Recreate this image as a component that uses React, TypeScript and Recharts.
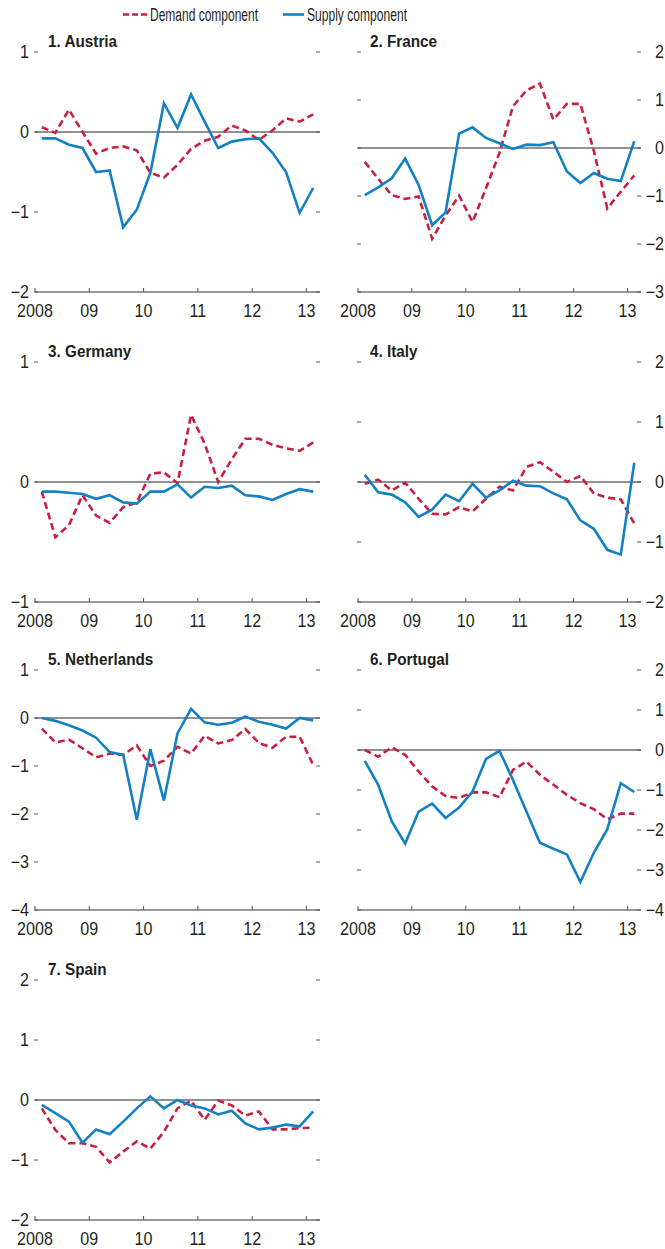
import React from 'react';
import { LineChart, Line, XAxis, YAxis, ReferenceLine } from 'recharts';

const quarters = [
  '2008Q1', '2008Q2', '2008Q3', '2008Q4', '2009Q1', '2009Q2', '2009Q3', '2009Q4',
  '2010Q1', '2010Q2', '2010Q3', '2010Q4', '2011Q1', '2011Q2', '2011Q3', '2011Q4',
  '2012Q1', '2012Q2', '2012Q3', '2012Q4', '2013Q1',
];
const yearTicks = [0, 4, 8, 12, 16, 20];
const yearLabels = ['2008', '09', '10', '11', '12', '13'];

const austriaDemand = [0.06, -0.01, 0.28, 0.0, -0.27, -0.2, -0.18, -0.23, -0.51, -0.57, -0.41, -0.21, -0.11, -0.06, 0.08, 0.02, -0.1, 0.02, 0.17, 0.13, 0.22];
const austriaSupply = [-0.08, -0.08, -0.16, -0.2, -0.5, -0.48, -1.19, -0.97, -0.51, 0.36, 0.05, 0.47, 0.13, -0.2, -0.12, -0.09, -0.08, -0.26, -0.5, -1.01, -0.7];
const franceDemand = [-0.29, -0.64, -0.98, -1.06, -1.01, -1.89, -1.41, -0.99, -1.54, -0.84, -0.1, 0.87, 1.2, 1.34, 0.59, 0.92, 0.92, -0.06, -1.26, -0.91, -0.57];
const franceSupply = [-0.98, -0.82, -0.63, -0.22, -0.77, -1.61, -1.34, 0.3, 0.43, 0.21, 0.1, -0.02, 0.07, 0.06, 0.12, -0.49, -0.73, -0.52, -0.64, -0.69, 0.14];
const germanyDemand = [-0.08, -0.46, -0.36, -0.11, -0.28, -0.34, -0.21, -0.17, 0.07, 0.08, -0.01, 0.56, 0.32, 0.0, 0.19, 0.36, 0.36, 0.31, 0.28, 0.26, 0.33];
const germanySupply = [-0.08, -0.08, -0.09, -0.1, -0.14, -0.11, -0.17, -0.18, -0.08, -0.08, -0.02, -0.13, -0.04, -0.05, -0.03, -0.11, -0.12, -0.15, -0.1, -0.06, -0.08];
const italyDemand = [-0.03, 0.04, -0.14, -0.01, -0.28, -0.53, -0.54, -0.42, -0.49, -0.28, -0.08, -0.14, 0.25, 0.33, 0.17, 0.0, 0.1, -0.19, -0.26, -0.29, -0.69];
const italySupply = [0.12, -0.17, -0.21, -0.34, -0.58, -0.46, -0.21, -0.32, -0.03, -0.26, -0.14, 0.02, -0.06, -0.07, -0.19, -0.29, -0.64, -0.78, -1.13, -1.21, 0.32];
const netherlandsDemand = [-0.22, -0.51, -0.45, -0.63, -0.82, -0.74, -0.77, -0.57, -1.0, -0.89, -0.6, -0.74, -0.37, -0.53, -0.46, -0.23, -0.52, -0.62, -0.39, -0.39, -0.98];
const netherlandsSupply = [0.0, -0.06, -0.15, -0.26, -0.41, -0.71, -0.77, -2.12, -0.65, -1.72, -0.32, 0.19, -0.09, -0.14, -0.1, 0.03, -0.08, -0.14, -0.22, 0.0, -0.05];
const portugalDemand = [0.0, -0.17, 0.07, -0.12, -0.54, -0.91, -1.15, -1.2, -1.06, -1.06, -1.18, -0.5, -0.29, -0.62, -0.87, -1.12, -1.33, -1.48, -1.73, -1.59, -1.59];
const portugalSupply = [-0.27, -0.87, -1.78, -2.34, -1.54, -1.34, -1.7, -1.44, -1.04, -0.22, -0.02, -0.75, -1.54, -2.32, -2.47, -2.61, -3.3, -2.57, -1.98, -0.83, -1.05];
const spainDemand = [-0.14, -0.5, -0.72, -0.72, -0.78, -1.04, -0.86, -0.69, -0.81, -0.53, -0.14, -0.01, -0.33, -0.01, -0.09, -0.26, -0.19, -0.49, -0.49, -0.47, -0.46];
const spainSupply = [-0.08, -0.22, -0.36, -0.71, -0.49, -0.57, -0.36, -0.14, 0.06, -0.14, 0.0, -0.09, -0.14, -0.24, -0.18, -0.39, -0.49, -0.46, -0.41, -0.44, -0.19];

const panelTitles = ['1. Austria', '2. France', '3. Germany', '4. Italy', '5. Netherlands', '6. Portugal', '7. Spain'];
const legendLabels = ['Demand component', 'Supply component'];

const RED = '#c8203f';
const BLUE = '#1380c3';
const TEXT = '#231f20';
const GRID = '#555555';
const FONT = "'Liberation Sans', Arial, Helvetica, sans-serif";
const TICK_FS = 17.5;
const TICK_SX = 0.92;

const rowTops = [52, 362, 670, 980];

const fmt = (v: number) => (v < 0 ? '\u2212' + Math.abs(v) : String(v));

const range = (a: number, b: number) => {
  const out: number[] = [];
  for (let v = a; v <= b; v++) out.push(v);
  return out;
};

const panels = [
  { title: panelTitles[0], demand: austriaDemand, supply: austriaSupply, domain: [-2, 1], col: 0, row: 0 },
  { title: panelTitles[1], demand: franceDemand, supply: franceSupply, domain: [-3, 2], col: 1, row: 0 },
  { title: panelTitles[2], demand: germanyDemand, supply: germanySupply, domain: [-1, 1], col: 0, row: 1 },
  { title: panelTitles[3], demand: italyDemand, supply: italySupply, domain: [-2, 2], col: 1, row: 1 },
  { title: panelTitles[4], demand: netherlandsDemand, supply: netherlandsSupply, domain: [-4, 1], col: 0, row: 2 },
  { title: panelTitles[5], demand: portugalDemand, supply: portugalSupply, domain: [-4, 2], col: 1, row: 2 },
  { title: panelTitles[6], demand: spainDemand, supply: spainSupply, domain: [-2, 2], col: 0, row: 3 },
];

const Label = ({ x, y, anchor, dy, children }: any) => (
  <text
    transform={`translate(${x} ${y}) scale(${TICK_SX} 1)`}
    x={0}
    y={0}
    dy={dy}
    textAnchor={anchor}
    fill={TEXT}
    fontSize={TICK_FS}
    fontFamily={FONT}
  >
    {children}
  </text>
);

const makeLeftTick = (showLabel: boolean) => (props: any) => {
  const { x, y, payload } = props;
  return (
    <g>
      <line x1={x - 1} x2={x + 3} y1={y} y2={y} stroke={GRID} strokeWidth={1} />
      {showLabel && (
        <Label x={x - 6} y={y} anchor="end" dy="0.36em">
          {fmt(payload.value)}
        </Label>
      )}
    </g>
  );
};

const makeRightTick = (showLabel: boolean) => (props: any) => {
  const { x, y, payload } = props;
  return (
    <g>
      <line x1={x - 4} x2={x} y1={y} y2={y} stroke={GRID} strokeWidth={1} />
      {showLabel && (
        <Label x={x + 23} y={y} anchor="end" dy="0.36em">
          {fmt(payload.value)}
        </Label>
      )}
    </g>
  );
};

const BottomTick = (props: any) => {
  const { x, y, payload } = props;
  const idx = yearTicks.indexOf(payload.value);
  return (
    <g>
      <line x1={x} x2={x} y1={y} y2={y - 4} stroke={GRID} strokeWidth={1} />
      <Label x={x} y={y + 25} anchor="middle" dy={0}>
        {idx >= 0 ? yearLabels[idx] : ''}
      </Label>
    </g>
  );
};

function Panel({ p }: { p: (typeof panels)[number] }) {
  const data = quarters.map((q, i) => ({ q, x: i + 0.5, demand: p.demand[i], supply: p.supply[i] }));
  const ticks = range(p.domain[0], p.domain[1]);
  const isLeft = p.col === 0;
  const width = isLeft ? 330 : 335;
  const left = isLeft ? 0 : 330;
  const top = rowTops[p.row] - 40;
  return (
    <div style={{ position: 'absolute', left, top, width, height: 310 }}>
      <LineChart width={width} height={310} data={data} margin={{ top: 40, right: 0, bottom: 0, left: 0 }}>
        <XAxis
          dataKey="x"
          type="number"
          domain={[0, 21]}
          ticks={yearTicks}
          allowDataOverflow
          height={30}
          tickSize={0}
          tickMargin={0}
          tickLine={false}
          axisLine={{ stroke: '#333', strokeWidth: 1 }}
          tick={BottomTick}
          interval={0}
        />
        <YAxis
          yAxisId="l"
          orientation="left"
          domain={p.domain}
          ticks={ticks}
          width={isLeft ? 35 : 28}
          tickSize={0}
          tickMargin={0}
          tickLine={false}
          axisLine={false}
          tick={makeLeftTick(isLeft)}
          interval={0}
          allowDataOverflow
        />
        <YAxis
          yAxisId="r"
          orientation="right"
          domain={p.domain}
          ticks={ticks}
          width={isLeft ? 10 : 24}
          tickSize={0}
          tickMargin={0}
          tickLine={false}
          axisLine={false}
          tick={makeRightTick(!isLeft)}
          interval={0}
          allowDataOverflow
        />
        <ReferenceLine yAxisId="l" y={0} stroke="#222" strokeWidth={1} />
        <Line
          yAxisId="l"
          type="linear"
          dataKey="demand"
          stroke={RED}
          strokeWidth={2.6}
          strokeDasharray="7 4"
          dot={false}
          isAnimationActive={false}
        />
        <Line
          yAxisId="l"
          type="linear"
          dataKey="supply"
          stroke={BLUE}
          strokeWidth={2.6}
          dot={false}
          isAnimationActive={false}
        />
      </LineChart>
    </div>
  );
}

export default function App() {
  return (
    <div style={{ position: 'absolute', left: 0, top: 0, width: 665, height: 1249, background: '#fff' }}>
      {panels.map((p) => (
        <Panel key={p.title} p={p} />
      ))}
      <svg width={665} height={1249} style={{ position: 'absolute', left: 0, top: 0, pointerEvents: 'none' }}>
        <line x1={123} x2={147} y1={14.5} y2={14.5} stroke={RED} strokeWidth={2.6} strokeDasharray="6 3" />
        <text
          x={150}
          y={20.5}
          fill={TEXT}
          fontSize={18}
          fontFamily={FONT}
          textLength={108}
          lengthAdjust="spacingAndGlyphs"
        >
          {legendLabels[0]}
        </text>
        <line x1={283} x2={304} y1={14.5} y2={14.5} stroke={BLUE} strokeWidth={2.6} />
        <text
          x={307}
          y={20.5}
          fill={TEXT}
          fontSize={18}
          fontFamily={FONT}
          textLength={100}
          lengthAdjust="spacingAndGlyphs"
        >
          {legendLabels[1]}
        </text>
        {panels.map((p) => (
          <text
            key={p.title}
            transform={`translate(${p.col === 0 ? 48 : 370} ${rowTops[p.row] - 5}) scale(0.9 1)`}
            x={0}
            y={0}
            fill={TEXT}
            fontSize={17}
            fontWeight="bold"
            fontFamily={FONT}
          >
            {p.title}
          </text>
        ))}
      </svg>
    </div>
  );
}
